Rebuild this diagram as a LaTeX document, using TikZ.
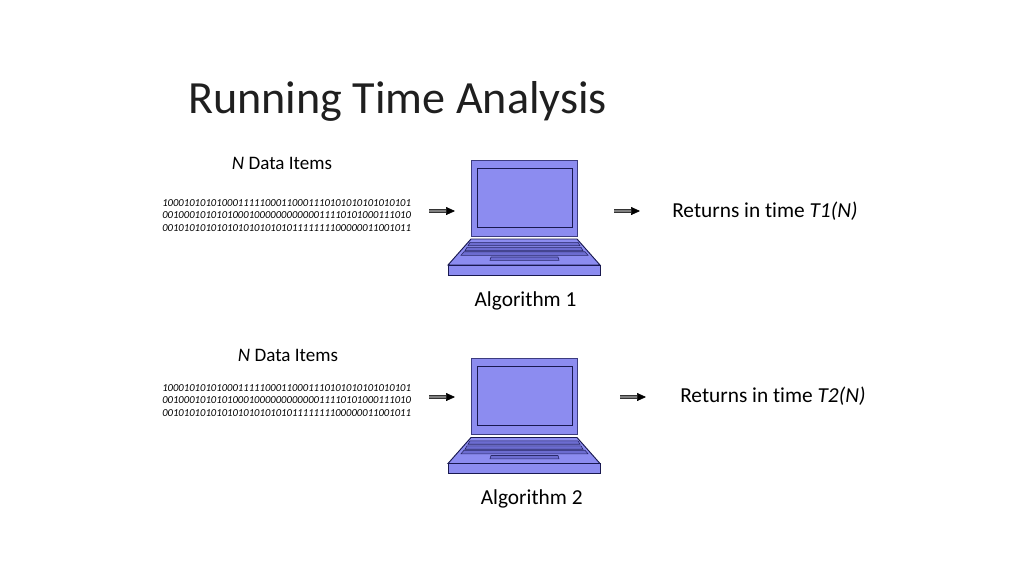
\documentclass[tikz,border=0pt]{standalone}
\usepackage{fontspec}
\setmainfont[Ligatures=NoCommon]{Carlito}
\usetikzlibrary{arrows.meta}
\definecolor{lap}{RGB}{140,140,240}
\definecolor{lapdark}{RGB}{108,108,208}
\definecolor{edge}{RGB}{25,25,80}
\tikzset{
  x=0.75pt,y=-0.75pt,
  lapshape/.style={draw=edge,fill=lap,line width=0.7pt,line join=miter},
  lapstripe/.style={draw=edge!85!lap,fill=lapdark,line width=0.45pt},
  flow/.style={draw=black!80,line width=0.5pt,double=gray,double distance=1.4pt,-{Triangle[length=6.75pt,width=6pt,fill=black,color=black]}},
  label/.style={font=\fontsize{16pt}{19pt}\selectfont,inner sep=0pt},
  itemlabel/.style={font=\fontsize{14.3pt}{17pt}\selectfont,inner sep=0pt},
  bits/.style={font=\fontsize{8pt}{9.4pt}\selectfont\itshape,inner sep=0pt,align=left,anchor=north west},
  laptop/.pic={
    \draw[lapshape,draw=edge!70!lap] (471,160) rectangle (577,236);
    \draw[lapshape] (477,168) rectangle (572,227);
    \draw[lapshape] (471,239) -- (577,239) -- (600,265) -- (448,265) -- cycle;
    \draw[lapshape] (448,265) rectangle (600,275);
    \draw[lapstripe] (470,242.3) -- (578,242.3) -- (580,245.7) -- (468,245.7) -- cycle;
    \draw[lapstripe] (467,247.3) -- (581,247.3) -- (583,250.7) -- (465,250.7) -- cycle;
    \draw[lapstripe] (464,251.7) -- (585,251.7) -- (588,255.3) -- (461,255.3) -- cycle;
    \draw[lapstripe] (491,257) -- (558,257) -- (559,260.3) -- (490,260.3) -- cycle;
  }
}
\begin{document}
\begin{tikzpicture}
\useasboundingbox (0,0) rectangle (1024,576);
\node[inner sep=0pt,anchor=base west,text=black!88,font=\fontsize{34.6pt}{42pt}\selectfont] (title) at (188,113) {Running Time Analysis};
\pic (laptopa) at (0,0) {laptop};
\pic (laptopb) at (0,198.5) {laptop};
\node[itemlabel] (itemsa) at (282,163.5) {\textit{N} Data Items};
\node[itemlabel] (itemsb) at (288,355.5) {\textit{N} Data Items};
\node[bits] (bitsa) at (162,199.2) {1000101010100011111000110001110101010101010101\\0010001010101000100000000000011110101000111010\\0010101010101010101010101111111100000011001011};
\node[bits] (bitsb) at (162,384.2) {1000101010100011111000110001110101010101010101\\0010001010101000100000000000011110101000111010\\0010101010101010101010101111111100000011001011};
\node[label,anchor=west] (retb) at (680,396) {Returns in time \textit{T2(N)}};
\node[label,anchor=west] (reta) at (672,211.5) {Returns in time \textit{T1(N)}};
\node[label] (alga) at (525.5,301) {Algorithm 1};
\node[label] (algb) at (531.7,498.5) {Algorithm 2};
\coordinate (a1) at (429,211); \coordinate (a2) at (455,211);
\coordinate (a3) at (614,211); \coordinate (a4) at (640,211);
\coordinate (b1) at (429,397); \coordinate (b2) at (455,397);
\coordinate (b3) at (620,397); \coordinate (b4) at (646,397);
\draw[flow] (a1) -- (a2);
\draw[flow] (a3) -- (a4);
\draw[flow] (b1) -- (b2);
\draw[flow] (b3) -- (b4);
\end{tikzpicture}
\end{document}
